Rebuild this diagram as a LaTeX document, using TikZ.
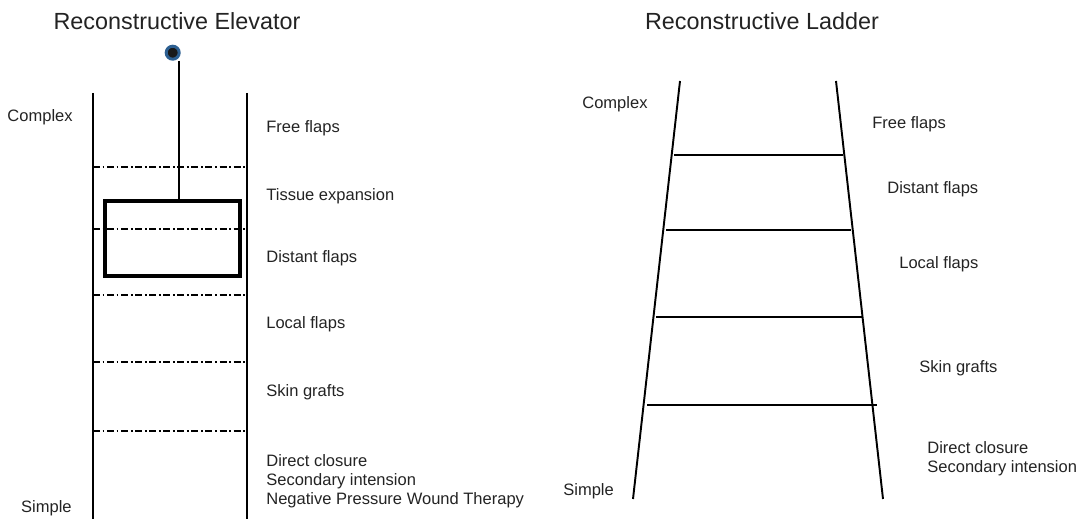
\documentclass[tikz,border=0pt]{standalone}
\usepackage{fontspec}
\setmainfont{Liberation Sans}
\definecolor{txtgray}{RGB}{35,35,35}
\definecolor{ringblue}{RGB}{45,95,145}
\definecolor{knob}{RGB}{25,25,25}
\tikzset{
  lbl/.style={anchor=base west,inner sep=0,text=txtgray,font=\fontsize{9.4}{11}\selectfont},
  ttl/.style={anchor=base,inner sep=0,text=txtgray,font=\fontsize{13.3}{16}\selectfont},
  shaft/.style={line width=0.8pt},
  floor/.style={line width=0.7pt,dash pattern=on 4pt off 1.5pt on 1pt off 1.5pt},
  rail/.style={line width=1.1pt},
}
\begin{document}
\begin{tikzpicture}[x=0.02cm,y=-0.02cm]
    \useasboundingbox (0,0) rectangle (1085,519);
    % elevator
    \node[ttl] (eltitle) at (177,30) {Reconstructive Elevator};
    \draw[shaft] (93,93) -- (93,519);
    \draw[shaft] (247,93) -- (247,519);
    \draw[floor] (93,167) -- (247,167);
    \draw[floor] (93,229) -- (247,229);
    \draw[floor] (93,295) -- (247,295);
    \draw[floor] (93,362) -- (247,362);
    \draw[floor] (93,431) -- (247,431);
    \node[draw,line width=2.2pt,minimum width=2.7cm,minimum height=1.5cm,inner sep=0]
      (car) at (172.5,238.5) {};
    \node[circle,draw=ringblue,fill=knob,line width=1.7pt,minimum size=0.26cm,inner sep=0]
      (pulley) at (172.7,52.7) {};
    \coordinate (hook) at (179,201);
    \draw[line width=1.1pt] (hook |- pulley.south) -- (hook);
    \node[lbl,anchor=base east] (elcomplex) at (73,122) {Complex};
    \node[lbl,anchor=base east] (elsimple) at (72,513) {Simple};
    \node[lbl] (elfree) at (266,133) {Free flaps};
    \node[lbl] (eltissue) at (266,201) {Tissue expansion};
    \node[lbl] (eldistant) at (266,263) {Distant flaps};
    \node[lbl] (ellocal) at (266,329) {Local flaps};
    \node[lbl] (elskin) at (266,397) {Skin grafts};
    \node[lbl,align=left] (eldirect) at (266,505)
    {Direct closure\\Secondary intension\\Negative Pressure Wound Therapy};
    % ladder
    \node[ttl] (ldtitle) at (762,30) {Reconstructive Ladder};
    \draw[rail] (680,81) -- (633,499);
    \draw[rail] (836,81) -- (883,499);
    \draw[rail] (674,155) -- (843,155);
    \draw[rail] (666,230) -- (851,230);
    \draw[rail] (656,317) -- (862,317);
    \draw[rail] (647,405) -- (877,405);
    \node[lbl] (ldcomplex) at (582,109) {Complex};
    \node[lbl] (ldsimple) at (563,496) {Simple};
    \node[lbl] (ldfree) at (872,129) {Free flaps};
    \node[lbl] (lddistant) at (887,194) {Distant flaps};
    \node[lbl] (ldlocal) at (899,269) {Local flaps};
    \node[lbl] (ldskin) at (919,373) {Skin grafts};
    \node[lbl,align=left] (lddirect) at (927,473)
    {Direct closure\\Secondary intension};
  \end{tikzpicture}
\end{document}
